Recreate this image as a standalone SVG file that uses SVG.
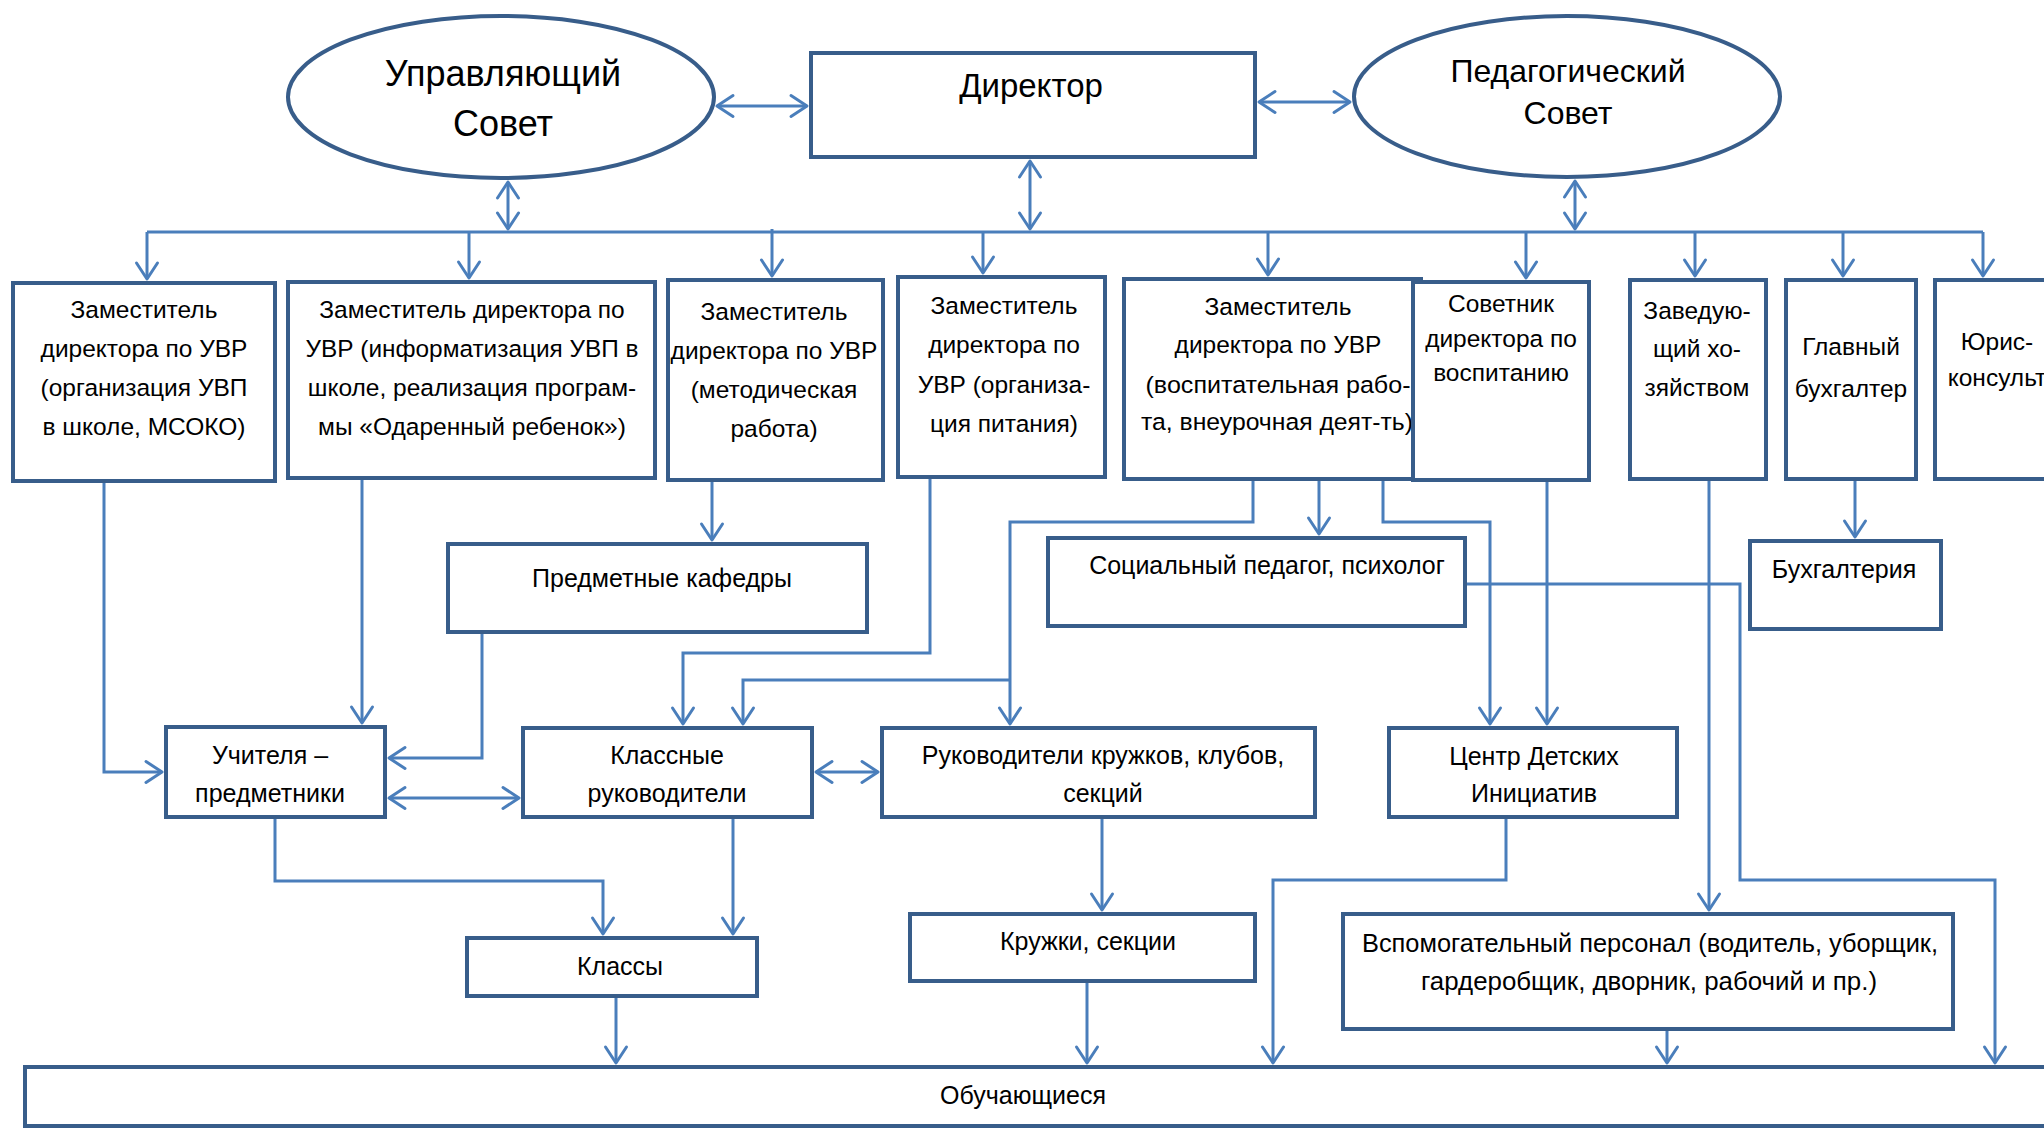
<svg xmlns="http://www.w3.org/2000/svg" width="2044" height="1128" viewBox="0 0 2044 1128">
<defs>
<style>
.n{fill:#fff;stroke:#385D8A;stroke-width:4}
.c{fill:none;stroke:#4A7EBB;stroke-width:3;stroke-linejoin:miter}
.a{marker-end:url(#ah)}
.d{marker-start:url(#ah);marker-end:url(#ah)}
text{font-family:"Liberation Sans",Arial,sans-serif;fill:#000;text-anchor:middle}
.t{font-size:24.5px}
.s{font-size:25px}
</style>
<marker id="ah" markerUnits="userSpaceOnUse" viewBox="-20 -14 24 28" markerWidth="24" markerHeight="28" refX="0" refY="0" orient="auto-start-reverse">
<path d="M-16,-10.5 L0,0 L-16,10.5" fill="none" stroke="#4A7EBB" stroke-width="3" stroke-linejoin="round" stroke-linecap="round"/>
</marker>
</defs>
<rect width="2044" height="1128" fill="#fff"/>

<g id="connectors">
<path class="c" d="M147,232 H1983"/>
<path class="c a" d="M147,232 V279"/>
<path class="c a" d="M469,232 V278"/>
<path class="c a" d="M772,229 V276"/>
<path class="c a" d="M983,232 V273"/>
<path class="c a" d="M1268,232 V275"/>
<path class="c a" d="M1526,232 V278"/>
<path class="c a" d="M1695,232 V276"/>
<path class="c a" d="M1843,232 V276"/>
<path class="c a" d="M1983,232 V276"/>
<path class="c d" d="M508,182 V229"/>
<path class="c d" d="M1030,161 V229"/>
<path class="c d" d="M1575,181 V229"/>
<path class="c d" d="M717,106 H807"/>
<path class="c d" d="M1259,102 H1350"/>
<path class="c a" d="M104,481 V772 H162"/>
<path class="c a" d="M362,478 V723"/>
<path class="c a" d="M482,632 V758 H389"/>
<path class="c d" d="M389,798 H519"/>
<path class="c a" d="M930,477 V653 H683 V724"/>
<path class="c a" d="M1253,479 V522 H1010 V724"/>
<path class="c a" d="M1010,680 H743 V724"/>
<path class="c a" d="M1383,479 V522 H1490 V724"/>
<path class="c a" d="M1547,480 V724"/>
<path class="c a" d="M1465,584 H1740 V880 H1995 V1063"/>
<path class="c a" d="M1709,479 V910"/>
<path class="c a" d="M1506,817 V880 H1273 V1063"/>
<path class="c a" d="M1102,817 V910"/>
<path class="c a" d="M1087,981 V1063"/>
<path class="c a" d="M1667,1029 V1063"/>
<path class="c a" d="M275,817 V881 H603 V934"/>
<path class="c a" d="M733,817 V934"/>
<path class="c a" d="M616,996 V1063"/>
<path class="c d" d="M816,772 H878"/>
<path class="c a" d="M712,480 V540"/>
<path class="c a" d="M1319,479 V534"/>
<path class="c a" d="M1855,479 V537"/>
</g>

<g id="upr-sovet">
<ellipse class="n" cx="501" cy="97" rx="213" ry="81"/>
<text x="503" y="86" font-size="36">Управляющий</text>
<text x="503" y="136" font-size="36">Совет</text>
</g>
<g id="director">
<rect class="n" x="811" y="53" width="444" height="104"/>
<text x="1031" y="97" font-size="33">Директор</text>
</g>
<g id="ped-sovet">
<ellipse class="n" cx="1567" cy="96.5" rx="213" ry="80.5"/>
<text x="1568" y="82" font-size="32">Педагогический</text>
<text x="1568" y="124" font-size="32">Совет</text>
</g>

<g id="zam-uvp">
<rect class="n" x="13" y="283" width="262" height="198"/>
<text class="t" x="144" y="318">Заместитель</text>
<text class="t" x="144" y="357">директора по УВР</text>
<text class="t" x="144" y="396">(организация УВП</text>
<text class="t" x="144" y="435">в школе, МСОКО)</text>
</g>
<g id="zam-inf">
<rect class="n" x="288" y="282" width="367" height="196"/>
<text class="t" x="472" y="318">Заместитель директора по</text>
<text class="t" x="472" y="357" textLength="333" lengthAdjust="spacingAndGlyphs">УВР (информатизация УВП в</text>
<text class="t" x="472" y="396">школе, реализация програм-</text>
<text class="t" x="472" y="435">мы «Одаренный ребенок»)</text>
</g>
<g id="zam-met">
<rect class="n" x="668" y="280" width="215" height="200"/>
<text class="t" x="774" y="320">Заместитель</text>
<text class="t" x="774" y="359">директора по УВР</text>
<text class="t" x="774" y="398">(методическая</text>
<text class="t" x="774" y="437">работа)</text>
</g>
<g id="zam-pit">
<rect class="n" x="898" y="277" width="207" height="200"/>
<text class="t" x="1004" y="314">Заместитель</text>
<text class="t" x="1004" y="353">директора по</text>
<text class="t" x="1004" y="393">УВР (организа-</text>
<text class="t" x="1004" y="432">ция питания)</text>
</g>
<g id="zam-vosp">
<rect class="n" x="1124" y="279" width="297" height="200"/>
<text class="t" x="1278" y="315">Заместитель</text>
<text class="t" x="1278" y="353">директора по УВР</text>
<text class="t" x="1278" y="393" textLength="265" lengthAdjust="spacingAndGlyphs">(воспитательная рабо-</text>
<text class="t" x="1277" y="430" textLength="272" lengthAdjust="spacingAndGlyphs">та, внеурочная деят-ть)</text>
</g>
<g id="sovetnik">
<rect class="n" x="1413" y="282" width="176" height="198"/>
<text class="t" x="1501" y="312">Советник</text>
<text class="t" x="1501" y="347">директора по</text>
<text class="t" x="1501" y="381">воспитанию</text>
</g>
<g id="zav-hoz">
<rect class="n" x="1630" y="280" width="136" height="199"/>
<text class="t" x="1697" y="319">Заведую-</text>
<text class="t" x="1697" y="357">щий хо-</text>
<text class="t" x="1697" y="396">зяйством</text>
</g>
<g id="glav-buh">
<rect class="n" x="1786" y="280" width="130" height="199"/>
<text class="t" x="1851" y="355">Главный</text>
<text class="t" x="1851" y="397">бухгалтер</text>
</g>
<g id="yurist">
<rect class="n" x="1935" y="280" width="130" height="199"/>
<text class="t" x="1997" y="350">Юрис-</text>
<text class="t" x="1997" y="386">консульт</text>
</g>

<g id="kafedry">
<rect class="n" x="448" y="544" width="419" height="88"/>
<text class="s" x="662" y="587">Предметные кафедры</text>
</g>
<g id="soc-ped">
<rect class="n" x="1048" y="538" width="417" height="88"/>
<text class="s" x="1267" y="574">Социальный педагог, психолог</text>
</g>
<g id="buhgalteria">
<rect class="n" x="1750" y="541" width="191" height="88"/>
<text class="s" x="1844" y="578">Бухгалтерия</text>
</g>
<g id="uchitelya">
<rect class="n" x="166" y="727" width="219" height="90"/>
<text class="s" x="270" y="764">Учителя –</text>
<text class="s" x="270" y="802">предметники</text>
</g>
<g id="kl-ruk">
<rect class="n" x="523" y="728" width="289" height="89"/>
<text class="s" x="667" y="764">Классные</text>
<text class="s" x="667" y="802">руководители</text>
</g>
<g id="ruk-kruzh">
<rect class="n" x="882" y="728" width="433" height="89"/>
<text class="s" x="1103" y="764">Руководители кружков, клубов,</text>
<text class="s" x="1103" y="802">секций</text>
</g>
<g id="cdi">
<rect class="n" x="1389" y="728" width="288" height="89"/>
<text class="s" x="1534" y="765">Центр Детских</text>
<text class="s" x="1534" y="802">Инициатив</text>
</g>
<g id="klassy">
<rect class="n" x="467" y="938" width="290" height="58"/>
<text class="s" x="620" y="975">Классы</text>
</g>
<g id="kruzhki">
<rect class="n" x="910" y="914" width="345" height="67"/>
<text class="s" x="1088" y="950">Кружки, секции</text>
</g>
<g id="vspom">
<rect class="n" x="1343" y="914" width="610" height="115"/>
<text x="1650" y="952" font-size="25.5" textLength="576" lengthAdjust="spacingAndGlyphs">Вспомогательный персонал (водитель, уборщик,</text>
<text x="1649" y="990" font-size="25.5" textLength="456" lengthAdjust="spacingAndGlyphs">гардеробщик, дворник, рабочий и пр.)</text>
</g>
<g id="obuch">
<rect class="n" x="25" y="1067" width="2040" height="59"/>
<text class="s" x="1023" y="1104">Обучающиеся</text>
</g>
</svg>
